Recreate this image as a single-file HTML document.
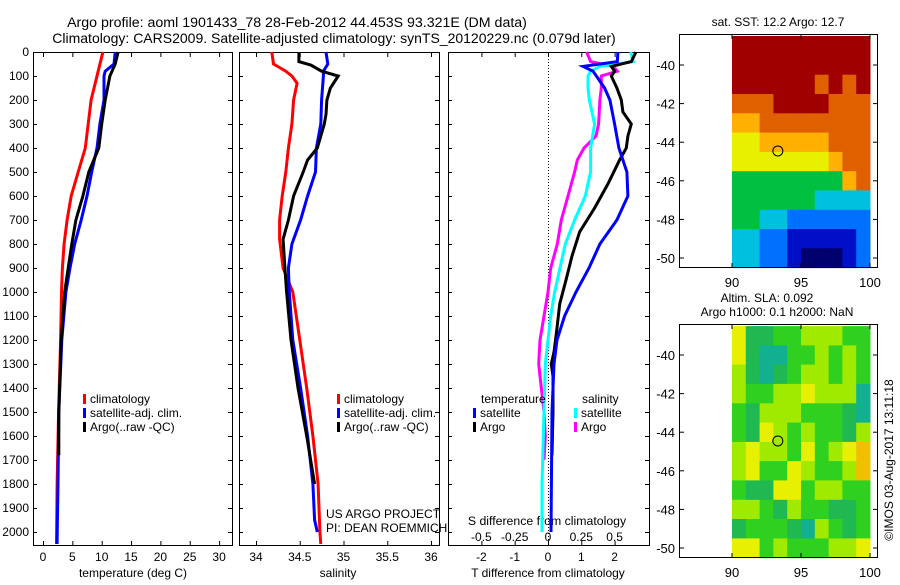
<!DOCTYPE html>
<html><head><meta charset="utf-8"><style>
body{margin:0;background:#fff;}
svg text{font-family:"Liberation Sans",sans-serif;fill:#000;}
</style></head><body>
<svg id="c" width="900" height="580" xmlns="http://www.w3.org/2000/svg">
<text x="297" y="27" font-size="14.2" text-anchor="middle">Argo profile: aoml 1901433_78 28-Feb-2012 44.453S 93.321E (DM data)</text>
<text x="334" y="43" font-size="14" text-anchor="middle">Climatology: CARS2009. Satellite-adjusted climatology: synTS_20120229.nc (0.079d later)</text>
</svg>
<script>
const depthTick=[0,100,200,300,400,500,600,700,800,900,1000,1100,1200,1300,1400,1500,1600,1700,1800,1900,2000];
const tempTicks=[0,5,10,15,20,25,30];
const salTicks=[34,34.5,35,35.5,36];
const dTTicks=[-2,-1,0,1,2];
const dSTicks=[-0.5,-0.25,0,0.25,0.5];
const lonTicks=[90,95,100];
const latTicks=[-40,-42,-44,-46,-48,-50];
// temperature profiles [depth, value]
const tClimD=[0,100,200,300,400,500,600,700,800,900,1000,1200,1500,1800,2050];
const tClimV=[10.2,9.2,8.2,7.7,7.2,6,4.8,4.1,3.6,3.3,3.15,3.0,2.65,2.4,2.3];
const tSatD=[0,50,80,100,200,300,400,500,600,700,800,900,1000,1200,1500,1800,1950,2050];
const tSatV=[12.3,12.1,10.6,10.4,10.4,9.7,9.2,8.3,7.5,6.5,5.4,4.6,3.9,3.2,2.7,2.55,2.45,2.4];
const tArgoD=[0,50,100,200,300,400,500,600,700,800,900,1000,1200,1500,1680];
const tArgoV=[12.8,12.3,11.4,10.6,10,9.5,7.8,6.8,5.6,4.9,4.3,3.7,3.1,2.7,2.7];
// salinity
const sClimD=[0,50,80,100,130,200,300,400,500,600,700,780,900,1000,1200,1400,1600,1800,2000,2050];
const sClimV=[34.18,34.2,34.34,34.41,34.47,34.43,34.41,34.37,34.34,34.30,34.27,34.27,34.31,34.42,34.5,34.58,34.65,34.71,34.73,34.74];
const sSatD=[0,50,80,100,200,300,400,500,600,700,800,900,1000,1200,1400,1600,1800,1950,2000];
const sSatV=[34.8,34.82,34.77,34.77,34.75,34.74,34.69,34.68,34.59,34.51,34.41,34.37,34.38,34.42,34.51,34.59,34.65,34.67,34.7];
const sArgoD=[0,40,55,80,100,150,200,260,300,400,450,500,600,700,780,900,1000,1200,1400,1600,1800];
const sArgoV=[34.49,34.49,34.63,34.75,34.94,34.85,34.81,34.8,34.78,34.7,34.59,34.54,34.43,34.37,34.31,34.33,34.35,34.4,34.48,34.58,34.67];
// differences
const dTSatD=[0,40,60,80,150,200,300,400,500,600,700,800,900,1000,1100,1200,1300,1500,2000];
const dTSatV=[2.1,2.08,1.05,1.35,1.7,1.86,2.0,2.13,2.37,2.4,2.07,1.56,1.23,0.84,0.5,0.27,0.18,0.12,0.09];
const dTArgoD=[0,40,60,80,100,150,200,250,300,350,400,450,550,650,750,850,950,1050,1150,1250,1300,1350,1500,1680];
const dTArgoV=[2.64,2.5,1.9,2.0,1.9,2.07,2.2,2.25,2.5,2.4,2.35,2.15,1.8,1.4,0.95,0.72,0.54,0.35,0.27,0.18,0.1,0.15,0.15,0.12];
const dSSatD=[0,40,60,80,100,150,200,300,400,500,600,700,800,900,1000,1100,1200,1300,1500,1800,2000];
const dSSatV=[0.62,0.64,0.39,0.32,0.30,0.30,0.31,0.35,0.32,0.32,0.28,0.2,0.13,0.09,0.05,0.02,0,-0.02,-0.03,-0.045,-0.045];
const dSArgoD=[0,40,60,80,100,150,200,300,350,400,450,500,600,700,800,900,1000,1200,1300,1400,1500,1600,1700];
const dSArgoV=[0.29,0.32,0.49,0.52,0.4,0.4,0.39,0.38,0.36,0.27,0.22,0.2,0.15,0.1,0.07,0.02,0,-0.06,-0.07,-0.05,-0.03,-0.02,-0.03];
// maps: rows lat -39..-50, cols lon 90..99 (codes)
const sstRows=["9999999999","9999999999","9999998989","8889999888","7788888888","6677777888","6666666788","4444444478","4444443333","4433222222","3322111112","3322100012"];
const sstColors=["#00006e","#0010c8","#0070ff","#00c0e0","#00c040","#70e000","#e8f000","#ffb000","#e06000","#a00000"];
const slaRows=["4112233322","4100223232","3101233232","3223343330","2133322210","2143232213","3433242345","3422432235","2114423322","3321322112","1222103212","4423222334"];
const slaColors=["#10b090","#20b850","#30d020","#a0ea00","#e6f000","#f0c000"];

const NS="http://www.w3.org/2000/svg";
const svg=document.getElementById('c');
function mk(t,a,txt){const e=document.createElementNS(NS,t);for(const k in a)e.setAttribute(k,a[k]);if(txt!==undefined)e.textContent=txt;svg.appendChild(e);return e;}
const yD=d=>52+d*0.24;
const xT=v=>43+v*5.87;
const xS=v=>256+(v-34)*87.5;
const xDT=v=>548+v*33.3;
const xDS=v=>548+v*133.2;
function panel(x0,x1,name){
  const r=mk('rect',{x:x0+.5,y:52.5,width:x1-x0,height:493,fill:'none',stroke:'#000','stroke-width':1});
  
  
}
panel(33,232,'temperature-panel');panel(239,439,'salinity-panel');panel(448,649,'difference-panel');
depthTick.forEach(d=>{
  [[33,232],[239,439],[448,649]].forEach(([a,b])=>{
    const l=mk('line',{x1:a,x2:a+4,y1:yD(d)+.5,y2:yD(d)+.5,stroke:'#000'});
    
    const l2=mk('line',{x1:b-4,x2:b,y1:yD(d)+.5,y2:yD(d)+.5,stroke:'#000'});
    
  });
  const t=mk('text',{x:29,y:yD(d)+4,'font-size':12,'text-anchor':'end'},String(d));
  
});
function xticks(arr,fx,labY){arr.forEach(v=>{const x=fx(v);
  const a=mk('line',{x1:x+.5,x2:x+.5,y1:545,y2:541,stroke:'#000'});
  const b=mk('line',{x1:x+.5,x2:x+.5,y1:53,y2:57,stroke:'#000'});
  const t=mk('text',{x:x,y:labY,'font-size':12,'text-anchor':'middle'},String(v));
});}
xticks(tempTicks,xT,561);xticks(salTicks,xS,561);xticks(dTTicks,xDT,561);
dSTicks.forEach(v=>{const t=mk('text',{x:xDS(v),y:541,'font-size':12,'text-anchor':'middle'},String(v));});
[['temperature (deg C)',133,'temperature-axis-title'],['salinity',338,'salinity-axis-title'],['T difference from climatology',548,'t-diff-axis-title']].forEach(([s,x,n])=>{const t=mk('text',{x:x,y:577,'font-size':12,'text-anchor':'middle'},s);});
let t=mk('text',{x:547,y:525,'font-size':12.3,'text-anchor':'middle'},'S difference from climatology');
let zl=mk('line',{x1:548.5,x2:548.5,y1:53,y2:545,stroke:'#000','stroke-dasharray':'1,2'});
function line(D,V,fx,col,name){
  const pts=D.map((d,i)=>fx(V[i]).toFixed(1)+','+yD(d).toFixed(1)).join(' ');
  const p=mk('polyline',{points:pts,fill:'none',stroke:col,'stroke-width':3,'stroke-linejoin':'miter'});
  
}
line(tClimD,tClimV,xT,'#ff0000','temp-climatology-line');
line(tSatD,tSatV,xT,'#0000ff','temp-satellite-line');
line(tArgoD,tArgoV,xT,'#000','temp-argo-line');
line(sClimD,sClimV,xS,'#ff0000','sal-climatology-line');
line(sSatD,sSatV,xS,'#0000ff','sal-satellite-line');
line(sArgoD,sArgoV,xS,'#000','sal-argo-line');
line(dSArgoD,dSArgoV,xDS,'#ff00ff','sdiff-argo-line');
line(dSSatD,dSSatV,xDS,'#00ffff','sdiff-satellite-line');
line(dTArgoD,dTArgoV,xDT,'#000','tdiff-argo-line');
line(dTSatD,dTSatV,xDT,'#0000ff','tdiff-satellite-line');
function leg(x,y,col,s){const r=mk('rect',{x:x,y:y-9,width:3,height:10,fill:col});
 const tt=mk('text',{x:x+7,y:y,'font-size':12},s);}
[[83,'#f00','climatology'],[83,'#00f','satellite-adj. clim.'],[83,'#000','Argo(..raw -QC)']].forEach((e,i)=>{leg(e[0],403+i*14,e[1],e[2]);leg(337,403+i*14,e[1],e[2]);});
t=mk('text',{x:481,y:403,'font-size':12},'temperature');
t=mk('text',{x:582,y:403,'font-size':12},'salinity');
leg(473,417,'#00f','satellite');leg(473,431,'#000','Argo');leg(574,417,'#0ff','satellite');leg(574,431,'#f0f','Argo');
t=mk('text',{x:326,y:518,'font-size':12},'US ARGO PROJECT');
t=mk('text',{x:326,y:532,'font-size':12},'PI: DEAN ROEMMICH');
// maps
function map(top,rows,colors,name){
  const xL=v=>732+(v-90)*13.8;
  const yL=v=>top+31+(-40-v)*19.3;
  rows.forEach((row,ri)=>{for(let ci=0;ci<row.length;ci++){
    const lat=-38.5-ri, lon=90+ci;
    const r=mk('rect',{x:xL(lon).toFixed(1),y:yL(lat).toFixed(1),width:14.3,height:19.8,fill:colors[+row[ci]]});
    
  }});
  mk('rect',{x:732,y:top-20,width:170,height:20,fill:'#fff'});
  mk('rect',{x:878,y:top,width:22,height:235,fill:'#fff'});
  const b=mk('rect',{x:679.5,y:top+.5,width:198,height:233,fill:'none',stroke:'#000'});
  
  latTicks.forEach(v=>{const y=yL(v);
    mk('line',{x1:680,x2:684,y1:y,y2:y,stroke:'#000'});mk('line',{x1:873,x2:877,y1:y,y2:y,stroke:'#000'});
    const tt=mk('text',{x:675,y:y+5,'font-size':13,'text-anchor':'end'},String(v));});
  lonTicks.forEach(v=>{const x=xL(v);
    mk('line',{x1:x,x2:x,y1:top+233,y2:top+229,stroke:'#000'});mk('line',{x1:x,x2:x,y1:top+1,y2:top+5,stroke:'#000'});
    const tt=mk('text',{x:x,y:top+253,'font-size':13,'text-anchor':'middle'},String(v));});
  const c=mk('circle',{cx:xL(93.321),cy:yL(-44.453),r:5,fill:'none',stroke:'#000'});
  
}
map(34,sstRows,sstColors,'sst-map');
map(324,slaRows,slaColors,'sla-map');
t=mk('text',{x:778,y:26,'font-size':12,'text-anchor':'middle'},'sat. SST: 12.2 Argo: 12.7');
t=mk('text',{x:767,y:302,'font-size':12,'text-anchor':'middle'},'Altim. SLA: 0.092');
t=mk('text',{x:777,y:316,'font-size':12,'text-anchor':'middle'},'Argo h1000: 0.1 h2000: NaN');
t=mk('text',{x:0,y:0,'font-size':12,'text-anchor':'middle',transform:'translate(893,460) rotate(-90)'},'©IMOS 03-Aug-2017 13:11:18');
</script>
</body></html>
